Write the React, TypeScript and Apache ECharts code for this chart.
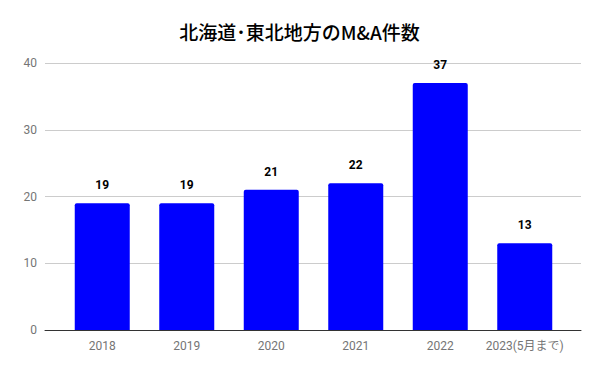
import React, { useEffect, useRef } from "react";
import * as echarts from "echarts";

const categories = ["2018", "2019", "2020", "2021", "2022", "2023(5月まで)"];
const counts = [19, 19, 21, 22, 37, 13];
const yMin = 0;
const yMax = 40;
const yInterval = 10;
const titleText = "北海道･東北地方のM&A件数";

export default function App() {
  const ref = useRef<HTMLDivElement>(null);
  useEffect(() => {
    if (!ref.current) return;
    const chart = echarts.init(ref.current, null, { renderer: "svg" });
    const font = "Roboto, 'Noto Sans CJK JP', sans-serif";
    chart.setOption({
      animation: false,
      backgroundColor: "#ffffff",
      title: {
        text: titleText,
        left: "center",
        top: 17,
        textStyle: {
          fontFamily: "'Noto Sans CJK JP', sans-serif",
          fontSize: 19,
          fontWeight: 500,
          color: "#000000",
        },
      },
      grid: [
        { left: 45, right: 18, top: 63, bottom: 40 },
        { left: 60, right: 32, top: 63, bottom: 40 },
      ],
      xAxis: [
        {
          gridIndex: 0,
          type: "value",
          min: 0,
          max: 1,
          axisLine: { show: true, onZero: false, lineStyle: { color: "#333333", width: 1 } },
          axisTick: { show: false },
          axisLabel: { show: false },
          splitLine: { show: false },
        },
        {
          gridIndex: 1,
          type: "category",
          data: categories,
          axisLine: { show: false },
          axisTick: { show: false },
          axisLabel: {
            color: "#757575",
            fontSize: 12,
            fontFamily: font,
            margin: 10,
            interval: 0,
          },
        },
      ],
      yAxis: [
        {
          gridIndex: 0,
          type: "value",
          min: yMin,
          max: yMax,
          interval: yInterval,
          axisLine: { show: false },
          axisTick: { show: false },
          axisLabel: { color: "#757575", fontSize: 12, fontFamily: font, margin: 8 },
          splitLine: { lineStyle: { color: "#cccccc", width: 1 } },
        },
        {
          gridIndex: 1,
          type: "value",
          min: yMin,
          max: yMax,
          interval: yInterval,
          show: false,
          splitLine: { show: false },
        },
      ],
      series: [
        {
          type: "bar",
          xAxisIndex: 1,
          yAxisIndex: 1,
          data: counts,
          barWidth: 55,
          itemStyle: { color: "#0000ff", borderRadius: [2, 2, 0, 0] },
          label: {
            show: true,
            position: "top",
            distance: 12,
            color: "#000000",
            fontWeight: "bold",
            fontSize: 12,
            fontFamily: font,
          },
        },
      ],
    });
    return () => chart.dispose();
  }, []);
  return <div ref={ref} style={{ width: 599, height: 370, margin: -8 }} />;
}
